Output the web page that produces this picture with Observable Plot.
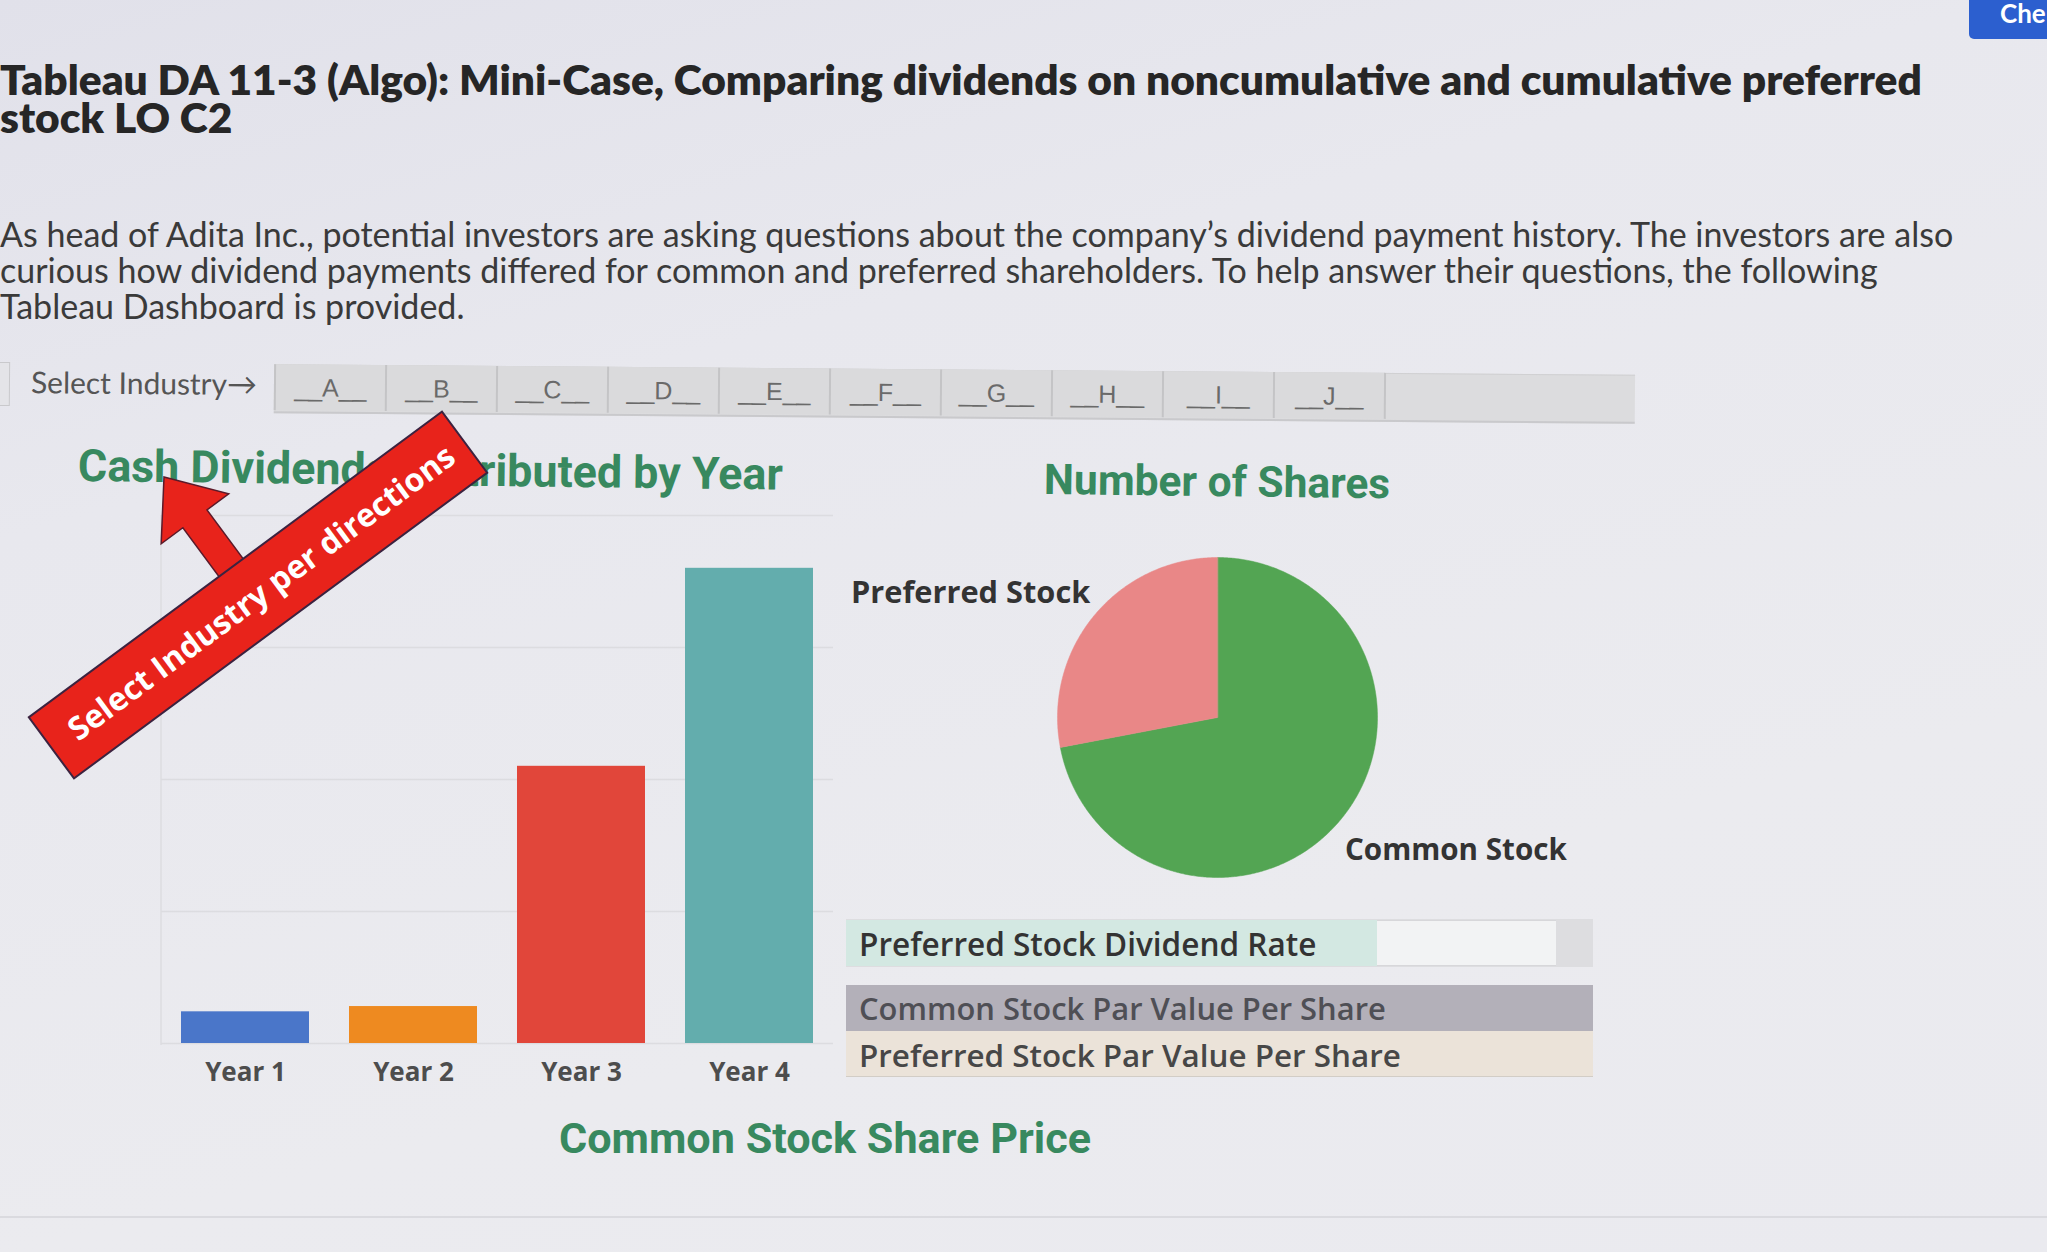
<!DOCTYPE html>
<html><head><meta charset="utf-8">
<script src="https://cdn.jsdelivr.net/npm/d3@7"></script>
<script src="https://cdn.jsdelivr.net/npm/@observablehq/plot@0.6"></script>
<style>
html,body{margin:0;padding:0;}
body{width:2047px;height:1252px;overflow:hidden;position:relative;
 background:linear-gradient(165deg,#e1e1ea 0%,#e8e8ee 30%,#ebebef 70%,#eaeaef 100%);
 font-family:Lato,"Open Sans",sans-serif;}
.t{position:absolute;display:inline-block;white-space:nowrap;line-height:0.95;}
#header{position:absolute;left:0;top:0;width:2047px;height:440px;}
#selector{position:absolute;left:0;top:0;width:1700px;height:440px;transform:rotate(0.45deg);transform-origin:0 380px;}
.plotbox{position:absolute;}
.plotbox svg{display:block;overflow:visible;}
#anno{position:absolute;left:0;top:0;z-index:5;}
.block{position:absolute;left:0;white-space:normal;}
</style></head>
<body>
<div id="header"><div id="selector"></div></div>
<div id="check" style="position:absolute;left:1969px;top:-6px;width:100px;height:45px;background:#2c5fcf;border-radius:5px;"></div>
<div style="position:absolute;left:0;top:1216px;width:2047px;height:2px;background:#dadadf;"></div>
<div id="bars" class="plotbox" style="left:0;top:490px;"></div>
<div id="pie" class="plotbox" style="left:1047px;top:547px;"></div>
<div id="tables"></div>
<svg id="anno" width="900" height="900"></svg>
<script>
// ---------------- data ----------------
const industries = ["A","B","C","D","E","F","G","H","I","J"];
const years = ["Year 1","Year 2","Year 3","Year 4"];
const dividends = [12000, 14000, 105000, 180000];
const dividendGridTicks = [0, 50000, 100000, 150000, 200000];
const shareTypes = ["Common Stock","Preferred Stock"];
const shareCounts = [72000, 28000];
const tableRows = ["Preferred Stock Dividend Rate","Common Stock Par Value Per Share","Preferred Stock Par Value Per Share"];

// palettes (styles)
const yearColors = ["#4a76c9","#ee8a20","#e1463a","#63adad"];
const shareColors = ["#53a553","#e98787"];

// ---------------- text helpers ----------------
function txt(parent, text, o){
  const s = document.createElement("span");
  s.className = "t";
  s.textContent = text;
  s.style.fontFamily = o.font || "Lato";
  s.style.fontWeight = o.weight || 400;
  s.style.color = o.color || "#333";
  s.style.fontSize = (o.size || 20) + "px";
  if (o.style) Object.assign(s.style, o.style);
  parent.appendChild(s);
  if (o.w){
    const cur = s.offsetWidth;
    const fs = (o.size||20) * o.w / cur;
    s.style.fontSize = fs + "px";
  }
  s.style.left = o.x + "px";
  s.style.top = (o.cy - s.offsetHeight/2) + "px";
  if (o.rot) { s.style.transformOrigin = "0 50%"; s.style.transform = `rotate(${o.rot}deg)`; }
  return s;
}
// font size so that `text` spans width w
function fitSize(text, font, weight, w){
  const s = document.createElement("span");
  Object.assign(s.style, {position:"absolute", visibility:"hidden", whiteSpace:"nowrap", fontFamily:font, fontWeight:weight, fontSize:"100px"});
  s.textContent = text;
  document.body.appendChild(s);
  const fs = 100 * w / s.offsetWidth;
  s.remove();
  return fs;
}
// wrapped paragraph block (one text node)
function block(parent, text, o){
  const d = document.createElement("div");
  d.className = "block";
  Object.assign(d.style, {fontFamily:o.font, fontWeight:o.weight, color:o.color, fontSize:o.size+"px",
    lineHeight:o.lh+"px", width:o.width+"px", top:(o.cy1 - o.lh/2)+"px", left:(o.x||0)+"px"});
  d.textContent = text;
  parent.appendChild(d);
  return d;
}

const header = document.getElementById("header");
// title (wraps after "preferred")
const titleLine1 = "Tableau DA 11-3 (Algo): Mini-Case, Comparing dividends on noncumulative and cumulative preferred";
const tfs = fitSize(titleLine1, "Lato", 800, 1922);
block(header, titleLine1 + " stock LO C2", {font:"Lato", weight:800, color:"#262626", size:tfs, lh:38, width:1960, cy1:79});
// paragraph (wraps after "also" and "following")
const paraLine1 = "As head of Adita Inc., potential investors are asking questions about the company\u2019s dividend payment history. The investors are also";
const pfs = fitSize(paraLine1, "Lato", 400, 1954);
block(header, paraLine1 + " curious how dividend payments differed for common and preferred shareholders. To help answer their questions, the following Tableau Dashboard is provided.",
  {font:"Lato", weight:400, color:"#3a3a3a", size:pfs, lh:36, width:1966, cy1:234});

// selector row
const sel = document.getElementById("selector");
const box = document.createElement("div");
Object.assign(box.style, {position:"absolute", left:"-2px", top:"362px", width:"10px", height:"42px", border:"1px solid #c9c9cc", background:"#e4e4e8"});
sel.appendChild(box);
txt(sel, "Select Industry\u2192", {font:"Lato", weight:400, color:"#555", size:26, w:226, x:31, cy:381});
const strip = document.createElement("div");
Object.assign(strip.style, {position:"absolute", left:"274px", top:"362px", width:"1361px", height:"46px", background:"#dcdcde", borderBottom:"2px solid #c9c9cc", borderTop:"1px solid #d0d0d2"});
sel.appendChild(strip);
industries.forEach((ind, i) => {
  const b = document.createElement("div");
  Object.assign(b.style, {position:"absolute", left:(274 + i*111)+"px", top:"362px", width:"111px", height:"46px", boxSizing:"border-box",
    borderLeft:"2px solid #c4c4c6", background:"#dadadc", color:"#6a6a6a", font:"400 25px 'Liberation Sans',Arial,sans-serif",
    display:"flex", alignItems:"center", justifyContent:"center"});
  b.textContent = "__" + ind + "__";
  sel.appendChild(b);
});
const lastB = document.createElement("div");
Object.assign(lastB.style, {position:"absolute", left:(274 + industries.length*111)+"px", top:"362px", width:"2px", height:"46px", background:"#c4c4c6"});
sel.appendChild(lastB);

// Check button text (clipped in the photo)
const chk = document.getElementById("check");
const ct = document.createElement("span");
Object.assign(ct.style, {position:"absolute", left:"31px", top:"3px", color:"#fff", font:"700 26px Lato", whiteSpace:"nowrap"});
ct.textContent = "Che";
chk.appendChild(ct);

// chart titles
const green = "#38895f";
txt(document.body, "Cash Dividends Distributed by Year", {font:"Roboto", weight:700, color:green, size:37, w:705, x:78, cy:466, rot:0.7});
txt(document.body, "Number of Shares", {font:"Roboto", weight:700, color:green, size:37, w:346, x:1044, cy:480, rot:0.7});
txt(document.body, "Common Stock Share Price", {font:"Roboto", weight:700, color:green, size:37, w:532, x:559, cy:1138});

// ---------------- bar chart ----------------
const barData = years.map((y, i) => ({year: y, value: dividends[i]}));
const barPlot = Plot.plot({
  width: 860, height: 600,
  marginLeft: 161, marginRight: 27, marginTop: 25, marginBottom: 47,
  style: {background: "transparent", fontFamily: "'Open Sans', sans-serif", fontSize: "26px", fontWeight: 700, color: "#4d4d4d", overflow: "visible"},
  x: {domain: years, paddingInner: 0.24, paddingOuter: 0.12, label: null, tickSize: 0, tickPadding: 19},
  y: {domain: [0, 200000], axis: null},
  color: {domain: years, range: yearColors},
  marks: [
    Plot.ruleY(dividendGridTicks, {stroke: "#dcdce0", strokeWidth: 1.5}),
    Plot.barY(barData, {x: "year", y: "value", fill: "year"})
  ]
});
document.getElementById("bars").appendChild(barPlot);
// faint left edge of the chart pane
const edge = document.createElement("div");
Object.assign(edge.style, {position:"absolute", left:"160px", top:"515px", width:"2px", height:"530px", background:"#e0e0e4"});
document.body.insertBefore(edge, document.getElementById("bars"));

// ---------------- pie chart ----------------
const arcs = d3.pie().sort(null)(shareCounts);
const piePts = [];
arcs.forEach((a, i) => {
  const type = shareTypes[i];
  piePts.push({type, x: 0, y: 0});
  const n = Math.max(2, Math.ceil((a.endAngle - a.startAngle) / (Math.PI/360)));
  for (let k = 0; k <= n; k++) {
    const t = a.startAngle + (a.endAngle - a.startAngle) * k / n;
    piePts.push({type, x: Math.sin(t), y: Math.cos(t)});
  }
});
const piePlot = Plot.plot({
  width: 340, height: 340, margin: 10,
  style: {background: "transparent", overflow: "visible"},
  x: {domain: [-1, 1], axis: null},
  y: {domain: [-1, 1], axis: null},
  color: {domain: shareTypes, range: shareColors},
  marks: [
    Plot.line(piePts, {x: "x", y: "y", z: "type", fill: "type", stroke: "type", strokeWidth: 0.5, curve: "linear-closed"})
  ]
});
document.getElementById("pie").appendChild(piePlot);
txt(document.body, shareTypes[1], {font:"Open Sans", weight:700, color:"#333", size:26, w:239, x:851, cy:591});
txt(document.body, shareTypes[0], {font:"Open Sans", weight:700, color:"#333", size:26, w:222, x:1345, cy:849});

// ---------------- table rows ----------------
const tb = document.getElementById("tables");
function rect(l, t, w, h, bg, extra){
  const d = document.createElement("div");
  Object.assign(d.style, {position:"absolute", left:l+"px", top:t+"px", width:w+"px", height:h+"px", background:bg}, extra||{});
  tb.appendChild(d); return d;
}
rect(846, 919, 747, 48, "#dddde0");
rect(846, 920, 531, 46, "#d3e8e2");
rect(1377, 920, 179, 46, "#f2f3f4", {borderTop:"1px solid #d7d7da", borderBottom:"1px solid #d7d7da", boxSizing:"border-box"});
rect(846, 985, 747, 46, "#b3b0b9");
rect(846, 1031, 747, 46, "#ebe3d9", {borderBottom:"1px solid #d2cdc6", boxSizing:"border-box"});
txt(tb, tableRows[0], {font:"Open Sans", weight:600, color:"#333", size:27, w:457, x:859, cy:944});
txt(tb, tableRows[1], {font:"Open Sans", weight:600, color:"#4f4f55", size:27, w:527, x:859, cy:1008});
txt(tb, tableRows[2], {font:"Open Sans", weight:600, color:"#474747", size:27, w:542, x:859, cy:1055});

// ---------------- annotation banner + arrow ----------------
const svg = d3.select("#anno");
svg.append("path")
  .attr("transform", "translate(164,477) rotate(-36.5)")
  .attr("d", "M0,0 L-42,52 L-15,52 L-15,125 L15,125 L15,52 L42,52 Z")
  .attr("fill", "#e8231b").attr("stroke", "#5b1a2a").attr("stroke-width", 1.5);
const g = svg.append("g").attr("transform", "translate(258,595) rotate(-36.5)");
g.append("rect").attr("x", -257).attr("y", -38).attr("width", 514).attr("height", 76)
  .attr("fill", "#e8231b").attr("stroke", "#3c2340").attr("stroke-width", 2);
const bt = g.append("text").attr("x", 4).attr("y", 0).attr("dy", "0.35em")
  .attr("text-anchor", "middle").attr("fill", "#fff")
  .style("font", "700 28px 'Open Sans'").text("Select Industry per directions");
const bw = bt.node().getComputedTextLength();
bt.style("font-size", (28 * 472 / bw) + "px");
</script>
</body></html>
